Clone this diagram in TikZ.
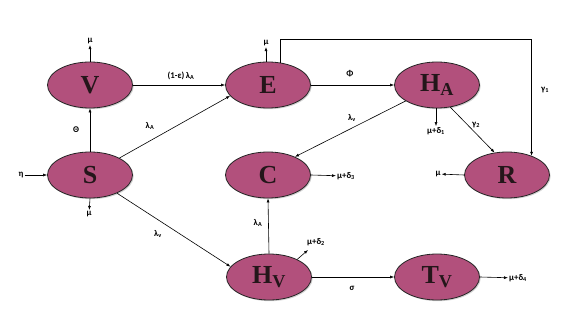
\documentclass[tikz,border=0pt]{standalone}
\usepackage{fontspec}
\setmainfont{Liberation Serif}
\newfontfamily\lblfont{Carlito}
\usetikzlibrary{arrows.meta,shapes.geometric,shadows}

\definecolor{compfill}{HTML}{B2507C}
\definecolor{compink}{HTML}{24161A}

\tikzset{
  comp/.style={ellipse, draw=black!85, line width=0.8pt, fill=compfill,
    minimum width=85pt, minimum height=46pt, inner sep=0pt,
    text=compink, font=\fontsize{26}{26}\selectfont\bfseries,
    drop shadow={shadow xshift=1.2pt, shadow yshift=-1.2pt, opacity=0.35}},
  lbl/.style={font=\lblfont\bfseries\fontsize{8.8}{10}\selectfont, inner sep=1pt},
  arr/.style={-{Latex[length=4pt,width=3pt]}, line width=0.6pt}
}

\begin{document}
\begin{tikzpicture}[x=1pt, y=-1pt]

    \useasboundingbox (0,0) rectangle (586,331);

    % Compartments
    \node[comp] (V)  at (90,85)   {V};
    \node[comp] (E)  at (268,85)  {E};
    \node[comp] (HA) at (437,85)  {H\textsubscript{A}};
    \node[comp] (S)  at (90,175)  {S};
    \node[comp] (C)  at (268,175) {C};
    \node[comp] (R)  at (507,175) {R};
    \node[comp] (HV) at (269,277) {H\textsubscript{V}};
    \node[comp] (TV) at (437,277) {T\textsubscript{V}};

    % Inflow and outflow labels
    \node[lbl] (eta)  at (21,175)  {η};
    \node[lbl] (muV)  at (90,41)   {μ};
    \node[lbl] (muE)  at (266,43)  {μ};
    \node[lbl] (muS)  at (89,214)  {μ};
    \node[lbl] (muR)  at (438,174) {μ};
    \node[lbl] (muHA) at (436,131) {μ+δ\textsubscript{1}};
    \node[lbl] (muHV) at (316,242) {μ+δ\textsubscript{2}};
    \node[lbl] (muC)  at (346,176) {μ+δ\textsubscript{3}};
    \node[lbl] (muTV) at (518,278) {μ+δ\textsubscript{4}};

    % Rate labels
    \node[lbl] (lSV)  at (76,130)  {Θ};
    \node[lbl] (lVE)  at (181,76)  {(1-ε)\,λ\textsubscript{A}};
    \node[lbl] (lSE)  at (150,126) {λ\textsubscript{A}};
    \node[lbl] (lEH)  at (350,74)  {Φ};
    \node[lbl] (lHC)  at (352,118) {λ\textsubscript{v}};
    \node[lbl] (lHR)  at (476,125) {γ\textsubscript{2}};
    \node[lbl] (lER)  at (545,90)  {γ\textsubscript{1}};
    \node[lbl] (lSH)  at (158,234) {λ\textsubscript{v}};
    \node[lbl] (lVC)  at (258,223) {λ\textsubscript{A}};
    \node[lbl] (lHT)  at (352,288) {σ};

    % Free ends
    \coordinate (top) at (0,39);
    \coordinate (hvd) at (308,250);

    % Flows between compartments
    \draw[arr] (eta) -- (S.west);
    \draw[arr] (S.north) -- (V.south);
    \draw[arr] (V.east) -- (E.west);
    \draw[arr] (S.30) -- (E.-164);
    \draw[arr] (E.east) -- (HA.west);
    \draw[arr] (HA.-153) -- (C.34);
    \draw[arr] (HA.-59) -- (R.119);
    \draw[arr] (E.62) |- (top -| R.38) -- (R.38);
    \draw[arr] (S.-34) -- (HV.165);
    \draw[arr] (HV.north) -- (C.south);
    \draw[arr] (HV.east) -- (TV.west);

    % Outflows
    \draw[arr] (V.north) -- (muV);
    \draw[arr] (E.north -| muE) -- (muE);
    \draw[arr] (S.south) -- (muS);
    \draw[arr] (R.west) -- (muR);
    \draw[arr] (HA.south -| muHA) -- (muHA);
    \draw[arr] (C.east) -- (muC);
    \draw[arr] (HV.32) -- (hvd);
    \draw[arr] (TV.east) -- (muTV);

\end{tikzpicture}
\end{document}
